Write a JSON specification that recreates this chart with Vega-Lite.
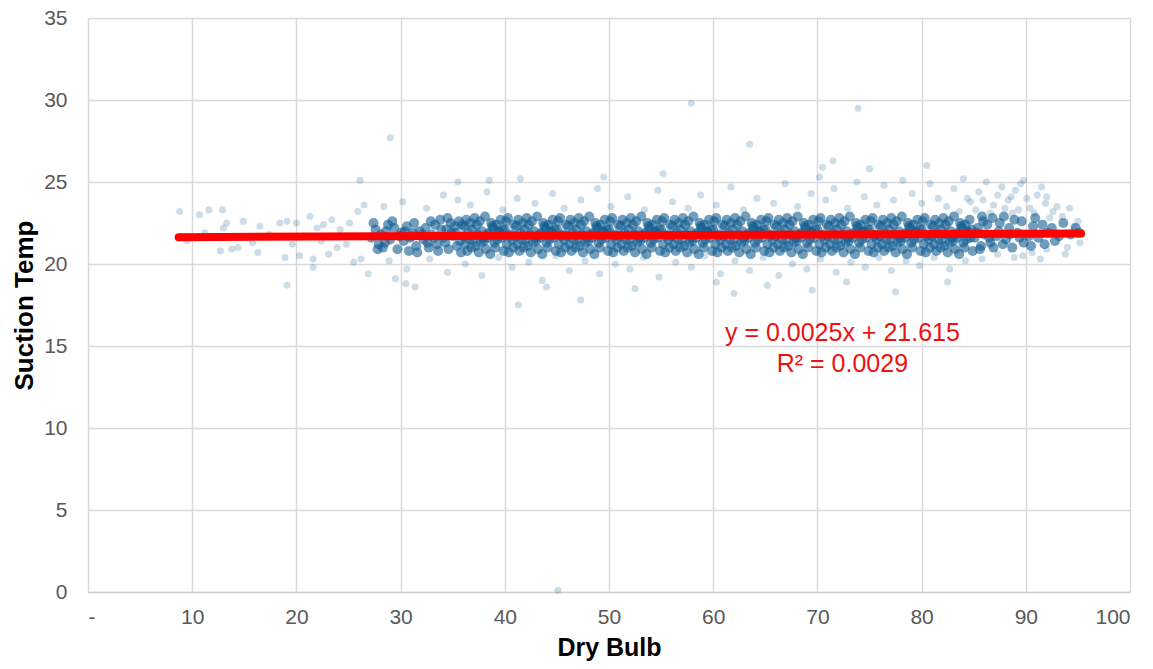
{
"$schema":"https://vega.github.io/schema/vega-lite/v6.json",
"width":1042,"height":574,
"autosize":{"type":"none"},
"padding":{"left":88,"top":18,"right":23,"bottom":77},
"background":"white",
"config":{"view":{"stroke":null},"font":"Liberation Sans"},
"datasets":{
"sparse":[
{"x":8.8,"y":23.2},{"x":10.7,"y":23.0},{"x":11.6,"y":23.3},{"x":12.9,"y":23.3},{"x":13.3,"y":22.5},{"x":13.0,"y":22.2},{"x":12.7,"y":20.8},{"x":13.8,"y":20.9},{"x":14.4,"y":21.0},{"x":16.3,"y":20.7},{"x":16.5,"y":22.3},{"x":18.4,"y":22.5},{"x":19.1,"y":22.6},{"x":18.9,"y":20.4},{"x":19.1,"y":18.7},{"x":20.0,"y":22.5},{"x":20.3,"y":20.5},{"x":21.6,"y":19.8},{"x":21.6,"y":20.3},{"x":22.0,"y":22.2},{"x":22.6,"y":22.4},{"x":23.4,"y":22.7},{"x":23.9,"y":21.0},{"x":25.1,"y":22.5},{"x":26.1,"y":25.1},{"x":26.9,"y":19.4},{"x":29.5,"y":19.1},{"x":31.4,"y":18.6},{"x":35.5,"y":25.0},{"x":35.5,"y":23.9},
{"x":9.5,"y":21.4},{"x":11.2,"y":21.9},{"x":14.9,"y":22.6},{"x":15.8,"y":21.3},{"x":17.4,"y":21.8},{"x":19.6,"y":21.2},{"x":20.8,"y":21.7},{"x":21.3,"y":22.9},{"x":22.4,"y":21.4},{"x":23.1,"y":20.6},{"x":24.2,"y":22.1},{"x":24.8,"y":21.2},{"x":25.5,"y":20.1},{"x":25.9,"y":23.2},{"x":26.5,"y":23.6},{"x":26.2,"y":20.3},
{"x":28.4,"y":23.5},{"x":30.2,"y":23.8},{"x":32.5,"y":23.4},{"x":34.1,"y":24.2},{"x":36.7,"y":23.6},{"x":38.3,"y":24.4},{"x":39.8,"y":23.3},{"x":41.2,"y":24.0},{"x":41.5,"y":25.2},{"x":42.9,"y":23.7},{"x":44.6,"y":24.3},{"x":45.7,"y":23.4},{"x":47.3,"y":23.9},{"x":48.9,"y":24.6},{"x":50.2,"y":23.5},{"x":51.8,"y":24.1},{"x":53.4,"y":23.3},{"x":54.7,"y":24.5},{"x":56.1,"y":23.8},{"x":57.6,"y":23.4},{"x":58.8,"y":24.2},{"x":60.3,"y":23.6},{"x":61.7,"y":24.7},{"x":62.9,"y":23.3},{"x":64.2,"y":24.0},{"x":65.8,"y":23.7},{"x":66.9,"y":24.9},{"x":68.1,"y":23.5},{"x":69.4,"y":24.3},{"x":70.2,"y":25.3},{"x":70.8,"y":23.9},{"x":71.6,"y":24.6},{"x":72.9,"y":23.4},{"x":73.8,"y":25.0},{"x":74.5,"y":24.1},{"x":75.7,"y":23.6},{"x":76.4,"y":24.8},{"x":77.3,"y":23.9},{"x":78.2,"y":25.1},{"x":79.1,"y":24.3},{"x":80.0,"y":23.7},{"x":80.8,"y":24.9},{"x":81.6,"y":24.0},{"x":82.4,"y":23.5},{"x":83.1,"y":24.6},{"x":84.0,"y":25.2},{"x":84.7,"y":23.8},{"x":85.5,"y":24.4},{"x":86.2,"y":25.0},{"x":86.9,"y":23.6},{"x":87.7,"y":24.7},{"x":88.3,"y":23.9},{"x":89.0,"y":24.5},{"x":89.8,"y":25.1},{"x":90.4,"y":23.4},{"x":91.1,"y":24.2},{"x":91.9,"y":23.7},{"x":92.6,"y":23.2},{"x":93.5,"y":22.9},{"x":94.2,"y":23.4},{"x":95.0,"y":22.6},{"x":89.5,"y":24.9},{"x":91.5,"y":24.7},{"x":88.7,"y":23.1},{"x":92.3,"y":22.8},
{"x":83.6,"y":23.2},{"x":84.4,"y":24.0},{"x":85.2,"y":23.3},{"x":85.9,"y":23.9},{"x":86.6,"y":23.1},{"x":87.3,"y":24.2},{"x":88.0,"y":23.4},{"x":88.6,"y":24.1},{"x":89.3,"y":23.3},{"x":90.1,"y":24.0},{"x":90.8,"y":23.1},{"x":92.0,"y":24.1},{"x":93.0,"y":23.5},{"x":94.6,"y":22.3},{"x":95.2,"y":21.3},{"x":93.8,"y":20.6},{"x":91.4,"y":20.3},{"x":89.7,"y":20.5},
{"x":28.9,"y":20.2},{"x":30.6,"y":19.7},{"x":32.8,"y":20.3},{"x":34.5,"y":19.5},{"x":36.2,"y":20.0},{"x":37.8,"y":19.3},{"x":39.4,"y":20.4},{"x":40.7,"y":19.8},{"x":42.3,"y":20.1},{"x":43.6,"y":19.0},{"x":44.9,"y":20.5},{"x":46.2,"y":19.6},{"x":47.7,"y":20.2},{"x":49.1,"y":19.4},{"x":50.6,"y":20.0},{"x":52.0,"y":19.7},{"x":53.3,"y":20.4},{"x":54.8,"y":19.2},{"x":56.4,"y":20.1},{"x":57.9,"y":19.8},{"x":59.2,"y":20.5},{"x":60.7,"y":19.4},{"x":62.1,"y":20.2},{"x":63.5,"y":19.6},{"x":64.8,"y":20.4},{"x":66.3,"y":19.3},{"x":67.6,"y":20.0},{"x":69.0,"y":19.7},{"x":70.3,"y":20.3},{"x":71.8,"y":19.5},{"x":73.2,"y":20.1},{"x":74.6,"y":19.8},{"x":75.9,"y":20.4},{"x":77.1,"y":19.6},{"x":78.5,"y":20.2},{"x":79.8,"y":19.9},{"x":81.2,"y":20.4},{"x":82.7,"y":19.7},{"x":84.2,"y":20.2},{"x":85.8,"y":20.3},{"x":87.3,"y":20.6},{"x":88.9,"y":20.4},{"x":90.6,"y":20.7},{"x":92.0,"y":20.9},{"x":94.0,"y":21.0},
{"x":57.9,"y":29.8},{"x":73.9,"y":29.5},{"x":29.0,"y":27.7},{"x":63.5,"y":27.3},{"x":71.5,"y":26.3},{"x":75.0,"y":25.8},{"x":70.5,"y":25.9},{"x":45.1,"y":0.1},{"x":41.3,"y":17.5},{"x":47.3,"y":17.8},{"x":30.5,"y":18.8},{"x":77.5,"y":18.3},{"x":44.0,"y":18.6},{"x":52.5,"y":18.5},{"x":60.3,"y":18.9},{"x":65.2,"y":18.7},{"x":69.5,"y":18.4},{"x":72.8,"y":18.9},{"x":55.2,"y":25.5},{"x":49.5,"y":25.3},{"x":38.5,"y":25.1},{"x":80.5,"y":26.0},{"x":82.5,"y":18.9},{"x":62.0,"y":18.2}
],
"dense":[
{"x":27.2,"y":21.6},{"x":27.6,"y":22.1},{"x":27.9,"y":21.2},{"x":27.4,"y":22.5},{"x":27.8,"y":20.9},
{"x":28.1,"y":21.8},{"x":28.5,"y":21.3},{"x":28.8,"y":22.4},{"x":28.3,"y":21.0},{"x":28.6,"y":22.0},
{"x":29.0,"y":21.5},{"x":29.4,"y":22.2},{"x":29.7,"y":20.9},{"x":29.2,"y":22.6},{"x":29.9,"y":21.7},
{"x":30.1,"y":21.9},{"x":30.3,"y":21.4},{"x":30.6,"y":22.3},{"x":30.8,"y":20.8},{"x":30.4,"y":22.0},{"x":30.9,"y":21.6},
{"x":31.0,"y":21.7},{"x":31.3,"y":22.5},{"x":31.5,"y":21.1},{"x":31.8,"y":22.0},{"x":31.6,"y":20.7},{"x":31.2,"y":21.9},
{"x":32.2,"y":21.5},{"x":32.4,"y":22.2},{"x":32.7,"y":21.0},{"x":32.9,"y":22.6},{"x":32.1,"y":21.8},{"x":32.6,"y":21.3},
{"x":33.0,"y":21.8},{"x":33.3,"y":22.4},{"x":33.5,"y":21.2},{"x":33.8,"y":22.7},{"x":33.6,"y":20.8},{"x":33.2,"y":21.6},{"x":33.9,"y":22.1},
{"x":34.1,"y":21.6},{"x":34.4,"y":22.1},{"x":34.6,"y":20.9},{"x":34.8,"y":22.5},{"x":34.3,"y":21.3},{"x":34.9,"y":21.9},{"x":34.5,"y":22.8},
{"x":35.0,"y":21.7},{"x":35.2,"y":22.3},{"x":35.4,"y":21.1},{"x":35.6,"y":22.6},{"x":35.8,"y":20.7},{"x":35.3,"y":21.9},{"x":35.7,"y":21.4},{"x":35.9,"y":22.4},
{"x":36.0,"y":21.7},{"x":36.1,"y":22.3},{"x":36.2,"y":21.2},{"x":36.3,"y":22.7},{"x":36.4,"y":20.8},{"x":36.5,"y":21.9},{"x":36.6,"y":21.5},{"x":36.7,"y":22.5},{"x":36.8,"y":21.0},{"x":36.9,"y":22.1},
{"x":37.9,"y":21.6},{"x":37.8,"y":22.0},{"x":37.7,"y":21.3},{"x":37.6,"y":22.6},{"x":37.5,"y":20.7},{"x":37.4,"y":21.8},{"x":37.3,"y":22.4},{"x":37.2,"y":21.1},{"x":37.1,"y":22.8},{"x":37.0,"y":21.5},
{"x":38.5,"y":21.9},{"x":38.0,"y":21.4},{"x":38.7,"y":22.5},{"x":38.2,"y":20.9},{"x":38.9,"y":22.2},{"x":38.4,"y":21.6},{"x":38.1,"y":22.9},{"x":38.6,"y":20.6},{"x":38.3,"y":21.8},{"x":38.8,"y":22.3},
{"x":39.3,"y":21.5},{"x":39.8,"y":22.1},{"x":39.1,"y":21.0},{"x":39.6,"y":22.7},{"x":39.0,"y":21.3},{"x":39.5,"y":21.9},{"x":39.9,"y":20.8},{"x":39.2,"y":22.4},{"x":39.7,"y":21.6},{"x":39.4,"y":22.0},
{"x":40.6,"y":21.8},{"x":40.2,"y":21.2},{"x":40.9,"y":22.4},{"x":40.4,"y":20.7},{"x":40.0,"y":22.1},{"x":40.7,"y":21.5},{"x":40.3,"y":22.8},{"x":40.8,"y":21.0},{"x":40.1,"y":22.6},{"x":40.5,"y":21.7},
{"x":41.0,"y":21.7},{"x":41.1,"y":22.3},{"x":41.2,"y":21.2},{"x":41.3,"y":22.7},{"x":41.4,"y":20.8},{"x":41.5,"y":21.9},{"x":41.6,"y":21.5},{"x":41.7,"y":22.5},{"x":41.8,"y":21.0},{"x":41.9,"y":22.1},
{"x":42.9,"y":21.6},{"x":42.8,"y":22.0},{"x":42.7,"y":21.3},{"x":42.6,"y":22.6},{"x":42.5,"y":20.7},{"x":42.4,"y":21.8},{"x":42.3,"y":22.4},{"x":42.2,"y":21.1},{"x":42.1,"y":22.8},{"x":42.0,"y":21.5},
{"x":43.5,"y":21.9},{"x":43.0,"y":21.4},{"x":43.7,"y":22.5},{"x":43.2,"y":20.9},{"x":43.9,"y":22.2},{"x":43.4,"y":21.6},{"x":43.1,"y":22.9},{"x":43.6,"y":20.6},{"x":43.3,"y":21.8},{"x":43.8,"y":22.3},
{"x":44.3,"y":21.5},{"x":44.8,"y":22.1},{"x":44.1,"y":21.0},{"x":44.6,"y":22.7},{"x":44.0,"y":21.3},{"x":44.5,"y":21.9},{"x":44.9,"y":20.8},{"x":44.2,"y":22.4},{"x":44.7,"y":21.6},{"x":44.4,"y":22.0},
{"x":45.6,"y":21.8},{"x":45.2,"y":21.2},{"x":45.9,"y":22.4},{"x":45.4,"y":20.7},{"x":45.0,"y":22.1},{"x":45.7,"y":21.5},{"x":45.3,"y":22.8},{"x":45.8,"y":21.0},{"x":45.1,"y":22.6},{"x":45.5,"y":21.7},
{"x":46.0,"y":21.7},{"x":46.1,"y":22.3},{"x":46.2,"y":21.2},{"x":46.3,"y":22.7},{"x":46.4,"y":20.8},{"x":46.5,"y":21.9},{"x":46.6,"y":21.5},{"x":46.7,"y":22.5},{"x":46.8,"y":21.0},{"x":46.9,"y":22.1},
{"x":47.9,"y":21.6},{"x":47.8,"y":22.0},{"x":47.7,"y":21.3},{"x":47.6,"y":22.6},{"x":47.5,"y":20.7},{"x":47.4,"y":21.8},{"x":47.3,"y":22.4},{"x":47.2,"y":21.1},{"x":47.1,"y":22.8},{"x":47.0,"y":21.5},
{"x":48.5,"y":21.9},{"x":48.0,"y":21.4},{"x":48.7,"y":22.5},{"x":48.2,"y":20.9},{"x":48.9,"y":22.2},{"x":48.4,"y":21.6},{"x":48.1,"y":22.9},{"x":48.6,"y":20.6},{"x":48.3,"y":21.8},{"x":48.8,"y":22.3},
{"x":49.3,"y":21.5},{"x":49.8,"y":22.1},{"x":49.1,"y":21.0},{"x":49.6,"y":22.7},{"x":49.0,"y":21.3},{"x":49.5,"y":21.9},{"x":49.9,"y":20.8},{"x":49.2,"y":22.4},{"x":49.7,"y":21.6},{"x":49.4,"y":22.0},
{"x":50.6,"y":21.8},{"x":50.2,"y":21.2},{"x":50.9,"y":22.4},{"x":50.4,"y":20.7},{"x":50.0,"y":22.1},{"x":50.7,"y":21.5},{"x":50.3,"y":22.8},{"x":50.8,"y":21.0},{"x":50.1,"y":22.6},{"x":50.5,"y":21.7},
{"x":51.0,"y":21.7},{"x":51.1,"y":22.3},{"x":51.2,"y":21.2},{"x":51.3,"y":22.7},{"x":51.4,"y":20.8},{"x":51.5,"y":21.9},{"x":51.6,"y":21.5},{"x":51.7,"y":22.5},{"x":51.8,"y":21.0},{"x":51.9,"y":22.1},
{"x":52.9,"y":21.6},{"x":52.8,"y":22.0},{"x":52.7,"y":21.3},{"x":52.6,"y":22.6},{"x":52.5,"y":20.7},{"x":52.4,"y":21.8},{"x":52.3,"y":22.4},{"x":52.2,"y":21.1},{"x":52.1,"y":22.8},{"x":52.0,"y":21.5},
{"x":53.5,"y":21.9},{"x":53.0,"y":21.4},{"x":53.7,"y":22.5},{"x":53.2,"y":20.9},{"x":53.9,"y":22.2},{"x":53.4,"y":21.6},{"x":53.1,"y":22.9},{"x":53.6,"y":20.6},{"x":53.3,"y":21.8},{"x":53.8,"y":22.3},
{"x":54.3,"y":21.5},{"x":54.8,"y":22.1},{"x":54.1,"y":21.0},{"x":54.6,"y":22.7},{"x":54.0,"y":21.3},{"x":54.5,"y":21.9},{"x":54.9,"y":20.8},{"x":54.2,"y":22.4},{"x":54.7,"y":21.6},{"x":54.4,"y":22.0},
{"x":55.6,"y":21.8},{"x":55.2,"y":21.2},{"x":55.9,"y":22.4},{"x":55.4,"y":20.7},{"x":55.0,"y":22.1},{"x":55.7,"y":21.5},{"x":55.3,"y":22.8},{"x":55.8,"y":21.0},{"x":55.1,"y":22.6},{"x":55.5,"y":21.7},
{"x":56.0,"y":21.7},{"x":56.1,"y":22.3},{"x":56.2,"y":21.2},{"x":56.3,"y":22.7},{"x":56.4,"y":20.8},{"x":56.5,"y":21.9},{"x":56.6,"y":21.5},{"x":56.7,"y":22.5},{"x":56.8,"y":21.0},{"x":56.9,"y":22.1},
{"x":57.9,"y":21.6},{"x":57.8,"y":22.0},{"x":57.7,"y":21.3},{"x":57.6,"y":22.6},{"x":57.5,"y":20.7},{"x":57.4,"y":21.8},{"x":57.3,"y":22.4},{"x":57.2,"y":21.1},{"x":57.1,"y":22.8},{"x":57.0,"y":21.5},
{"x":58.5,"y":21.9},{"x":58.0,"y":21.4},{"x":58.7,"y":22.5},{"x":58.2,"y":20.9},{"x":58.9,"y":22.2},{"x":58.4,"y":21.6},{"x":58.1,"y":22.9},{"x":58.6,"y":20.6},{"x":58.3,"y":21.8},{"x":58.8,"y":22.3},
{"x":59.3,"y":21.5},{"x":59.8,"y":22.1},{"x":59.1,"y":21.0},{"x":59.6,"y":22.7},{"x":59.0,"y":21.3},{"x":59.5,"y":21.9},{"x":59.9,"y":20.8},{"x":59.2,"y":22.4},{"x":59.7,"y":21.6},{"x":59.4,"y":22.0},
{"x":60.6,"y":21.8},{"x":60.2,"y":21.2},{"x":60.9,"y":22.4},{"x":60.4,"y":20.7},{"x":60.0,"y":22.1},{"x":60.7,"y":21.5},{"x":60.3,"y":22.8},{"x":60.8,"y":21.0},{"x":60.1,"y":22.6},{"x":60.5,"y":21.7},
{"x":61.0,"y":21.7},{"x":61.1,"y":22.3},{"x":61.2,"y":21.2},{"x":61.3,"y":22.7},{"x":61.4,"y":20.8},{"x":61.5,"y":21.9},{"x":61.6,"y":21.5},{"x":61.7,"y":22.5},{"x":61.8,"y":21.0},{"x":61.9,"y":22.1},
{"x":62.9,"y":21.6},{"x":62.8,"y":22.0},{"x":62.7,"y":21.3},{"x":62.6,"y":22.6},{"x":62.5,"y":20.7},{"x":62.4,"y":21.8},{"x":62.3,"y":22.4},{"x":62.2,"y":21.1},{"x":62.1,"y":22.8},{"x":62.0,"y":21.5},
{"x":63.5,"y":21.9},{"x":63.0,"y":21.4},{"x":63.7,"y":22.5},{"x":63.2,"y":20.9},{"x":63.9,"y":22.2},{"x":63.4,"y":21.6},{"x":63.1,"y":22.9},{"x":63.6,"y":20.6},{"x":63.3,"y":21.8},{"x":63.8,"y":22.3},
{"x":64.3,"y":21.5},{"x":64.8,"y":22.1},{"x":64.1,"y":21.0},{"x":64.6,"y":22.7},{"x":64.0,"y":21.3},{"x":64.5,"y":21.9},{"x":64.9,"y":20.8},{"x":64.2,"y":22.4},{"x":64.7,"y":21.6},{"x":64.4,"y":22.0},
{"x":65.6,"y":21.8},{"x":65.2,"y":21.2},{"x":65.9,"y":22.4},{"x":65.4,"y":20.7},{"x":65.0,"y":22.1},{"x":65.7,"y":21.5},{"x":65.3,"y":22.8},{"x":65.8,"y":21.0},{"x":65.1,"y":22.6},{"x":65.5,"y":21.7},
{"x":66.0,"y":21.7},{"x":66.1,"y":22.3},{"x":66.2,"y":21.2},{"x":66.3,"y":22.7},{"x":66.4,"y":20.8},{"x":66.5,"y":21.9},{"x":66.6,"y":21.5},{"x":66.7,"y":22.5},{"x":66.8,"y":21.0},{"x":66.9,"y":22.1},
{"x":67.9,"y":21.6},{"x":67.8,"y":22.0},{"x":67.7,"y":21.3},{"x":67.6,"y":22.6},{"x":67.5,"y":20.7},{"x":67.4,"y":21.8},{"x":67.3,"y":22.4},{"x":67.2,"y":21.1},{"x":67.1,"y":22.8},{"x":67.0,"y":21.5},
{"x":68.5,"y":21.9},{"x":68.0,"y":21.4},{"x":68.7,"y":22.5},{"x":68.2,"y":20.9},{"x":68.9,"y":22.2},{"x":68.4,"y":21.6},{"x":68.1,"y":22.9},{"x":68.6,"y":20.6},{"x":68.3,"y":21.8},{"x":68.8,"y":22.3},
{"x":69.3,"y":21.5},{"x":69.8,"y":22.1},{"x":69.1,"y":21.0},{"x":69.6,"y":22.7},{"x":69.0,"y":21.3},{"x":69.5,"y":21.9},{"x":69.9,"y":20.8},{"x":69.2,"y":22.4},{"x":69.7,"y":21.6},{"x":69.4,"y":22.0},
{"x":70.6,"y":21.8},{"x":70.2,"y":21.2},{"x":70.9,"y":22.4},{"x":70.4,"y":20.7},{"x":70.0,"y":22.1},{"x":70.7,"y":21.5},{"x":70.3,"y":22.8},{"x":70.8,"y":21.0},{"x":70.1,"y":22.6},{"x":70.5,"y":21.7},
{"x":71.0,"y":21.7},{"x":71.1,"y":22.3},{"x":71.2,"y":21.2},{"x":71.3,"y":22.7},{"x":71.4,"y":20.8},{"x":71.5,"y":21.9},{"x":71.6,"y":21.5},{"x":71.7,"y":22.5},{"x":71.8,"y":21.0},{"x":71.9,"y":22.1},
{"x":72.9,"y":21.6},{"x":72.8,"y":22.0},{"x":72.7,"y":21.3},{"x":72.6,"y":22.6},{"x":72.5,"y":20.7},{"x":72.4,"y":21.8},{"x":72.3,"y":22.4},{"x":72.2,"y":21.1},{"x":72.1,"y":22.8},{"x":72.0,"y":21.5},
{"x":73.5,"y":21.9},{"x":73.0,"y":21.4},{"x":73.7,"y":22.5},{"x":73.2,"y":20.9},{"x":73.9,"y":22.2},{"x":73.4,"y":21.6},{"x":73.1,"y":22.9},{"x":73.6,"y":20.6},{"x":73.3,"y":21.8},{"x":73.8,"y":22.3},
{"x":74.3,"y":21.5},{"x":74.8,"y":22.1},{"x":74.1,"y":21.0},{"x":74.6,"y":22.7},{"x":74.0,"y":21.3},{"x":74.5,"y":21.9},{"x":74.9,"y":20.8},{"x":74.2,"y":22.4},{"x":74.7,"y":21.6},{"x":74.4,"y":22.0},
{"x":75.6,"y":21.8},{"x":75.2,"y":21.2},{"x":75.9,"y":22.4},{"x":75.4,"y":20.7},{"x":75.0,"y":22.1},{"x":75.7,"y":21.5},{"x":75.3,"y":22.8},{"x":75.8,"y":21.0},{"x":75.1,"y":22.6},{"x":75.5,"y":21.7},
{"x":76.0,"y":21.7},{"x":76.1,"y":22.3},{"x":76.2,"y":21.2},{"x":76.3,"y":22.7},{"x":76.4,"y":20.8},{"x":76.5,"y":21.9},{"x":76.6,"y":21.5},{"x":76.7,"y":22.5},{"x":76.8,"y":21.0},{"x":76.9,"y":22.1},
{"x":77.9,"y":21.6},{"x":77.8,"y":22.0},{"x":77.7,"y":21.3},{"x":77.6,"y":22.6},{"x":77.5,"y":20.7},{"x":77.4,"y":21.8},{"x":77.3,"y":22.4},{"x":77.2,"y":21.1},{"x":77.1,"y":22.8},{"x":77.0,"y":21.5},
{"x":78.5,"y":21.9},{"x":78.0,"y":21.4},{"x":78.7,"y":22.5},{"x":78.2,"y":20.9},{"x":78.9,"y":22.2},{"x":78.4,"y":21.6},{"x":78.1,"y":22.9},{"x":78.6,"y":20.6},{"x":78.3,"y":21.8},{"x":78.8,"y":22.3},
{"x":79.3,"y":21.5},{"x":79.8,"y":22.1},{"x":79.1,"y":21.0},{"x":79.6,"y":22.7},{"x":79.0,"y":21.3},{"x":79.5,"y":21.9},{"x":79.9,"y":20.8},{"x":79.2,"y":22.4},{"x":79.7,"y":21.6},{"x":79.4,"y":22.0},
{"x":80.6,"y":21.8},{"x":80.2,"y":21.2},{"x":80.9,"y":22.4},{"x":80.4,"y":20.7},{"x":80.0,"y":22.1},{"x":80.7,"y":21.5},{"x":80.3,"y":22.8},{"x":80.8,"y":21.0},{"x":80.1,"y":22.6},{"x":80.5,"y":21.7},
{"x":81.0,"y":21.7},{"x":81.1,"y":22.3},{"x":81.2,"y":21.2},{"x":81.3,"y":22.7},{"x":81.4,"y":20.8},{"x":81.5,"y":21.9},{"x":81.6,"y":21.5},{"x":81.7,"y":22.5},{"x":81.8,"y":21.0},{"x":81.9,"y":22.1},
{"x":82.9,"y":21.6},{"x":82.8,"y":22.0},{"x":82.7,"y":21.3},{"x":82.6,"y":22.6},{"x":82.5,"y":20.7},{"x":82.4,"y":21.8},{"x":82.3,"y":22.4},{"x":82.2,"y":21.1},{"x":82.1,"y":22.8},{"x":82.0,"y":21.5},
{"x":83.5,"y":21.9},{"x":83.0,"y":21.4},{"x":83.7,"y":22.5},{"x":83.2,"y":20.9},{"x":83.9,"y":22.2},{"x":83.4,"y":21.6},{"x":83.1,"y":22.9},{"x":83.6,"y":20.6},{"x":83.3,"y":21.8},{"x":83.8,"y":22.3},
{"x":84.3,"y":21.5},{"x":84.8,"y":22.1},{"x":84.1,"y":21.0},{"x":84.6,"y":22.7},{"x":84.0,"y":21.3},{"x":84.5,"y":21.9},{"x":84.9,"y":20.8},{"x":84.2,"y":22.4},{"x":84.7,"y":21.6},{"x":84.4,"y":22.0},
{"x":85.1,"y":21.6},{"x":85.4,"y":22.2},{"x":85.7,"y":21.1},{"x":85.9,"y":22.6},{"x":85.3,"y":21.9},{"x":85.6,"y":20.9},{"x":85.8,"y":22.9},
{"x":86.0,"y":21.8},{"x":86.3,"y":22.4},{"x":86.6,"y":21.3},{"x":86.8,"y":22.8},{"x":86.5,"y":21.6},{"x":86.9,"y":21.0},
{"x":87.2,"y":21.7},{"x":87.5,"y":22.5},{"x":87.8,"y":21.2},{"x":87.4,"y":22.0},{"x":87.9,"y":22.9},
{"x":88.1,"y":21.5},{"x":88.4,"y":22.2},{"x":88.7,"y":21.0},{"x":88.9,"y":22.7},{"x":88.5,"y":21.8},
{"x":89.2,"y":21.9},{"x":89.6,"y":22.6},{"x":89.8,"y":21.3},{"x":89.4,"y":21.6},
{"x":90.3,"y":21.7},{"x":90.7,"y":22.3},{"x":90.5,"y":21.1},{"x":90.9,"y":22.8},
{"x":91.2,"y":21.6},{"x":91.6,"y":22.4},{"x":91.8,"y":21.2},
{"x":92.1,"y":21.9},{"x":92.5,"y":22.2},{"x":92.8,"y":21.4},
{"x":93.2,"y":21.7},{"x":93.6,"y":22.5},
{"x":94.3,"y":21.8},{"x":94.8,"y":22.2},
{"x":95.1,"y":21.9}
],
"trend":[{"x":8.7,"y":21.637},{"x":95.3,"y":21.853}],
"labels":[{"x":72.4,"y":15.8,"label":"y = 0.0025x + 21.615"},{"x":72.4,"y":13.9,"label":"R² = 0.0029"}]
},
"layer":[
{"data":{"name":"sparse"},
 "mark":{"type":"circle","size":50,"opacity":0.22,"color":"#1a6496"},
 "encoding":{
  "x":{"field":"x","type":"quantitative","scale":{"domain":[0,100],"nice":false,"zero":false},
       "axis":{"title":"Dry Bulb","values":[0,10,20,30,40,50,60,70,80,90,100],"labelExpr":"datum.value == 0 ? '-' : datum.label","grid":true,"gridColor":"#d9d9d9","gridWidth":1.5,"domainColor":"#cfcfcf","domainWidth":1.5,"ticks":false,"labelPadding":14,"labelFontSize":21,"labelColor":"#595959","labelFont":"Liberation Sans","titleFontSize":25,"titleFontWeight":"bold","titleColor":"#000000","titleFont":"Liberation Sans","titlePadding":8}},
  "y":{"field":"y","type":"quantitative","scale":{"domain":[0,35],"nice":false,"zero":false},
       "axis":{"title":"Suction Temp","values":[0,5,10,15,20,25,30,35],"grid":true,"gridColor":"#d9d9d9","gridWidth":1.5,"domain":false,"ticks":false,"labelPadding":21,"labelFontSize":21,"labelColor":"#595959","labelFont":"Liberation Sans","titleFontSize":26,"titleFontWeight":"bold","titleColor":"#000000","titleFont":"Liberation Sans","titlePadding":6}}
 }},
{"data":{"name":"dense"},
 "mark":{"type":"circle","size":100,"opacity":0.6,"color":"#135d91"},
 "encoding":{"x":{"field":"x","type":"quantitative"},"y":{"field":"y","type":"quantitative"}}},
{"data":{"name":"trend"},
 "mark":{"type":"line","color":"#ff0000","strokeWidth":8,"strokeCap":"round"},
 "encoding":{"x":{"field":"x","type":"quantitative"},"y":{"field":"y","type":"quantitative"}}},
{"data":{"name":"labels"},
 "mark":{"type":"text","color":"#ee1111","fontSize":25,"font":"Liberation Sans","align":"center","baseline":"middle"},
 "encoding":{"x":{"field":"x","type":"quantitative"},"y":{"field":"y","type":"quantitative"},"text":{"field":"label"}}}
]
}
